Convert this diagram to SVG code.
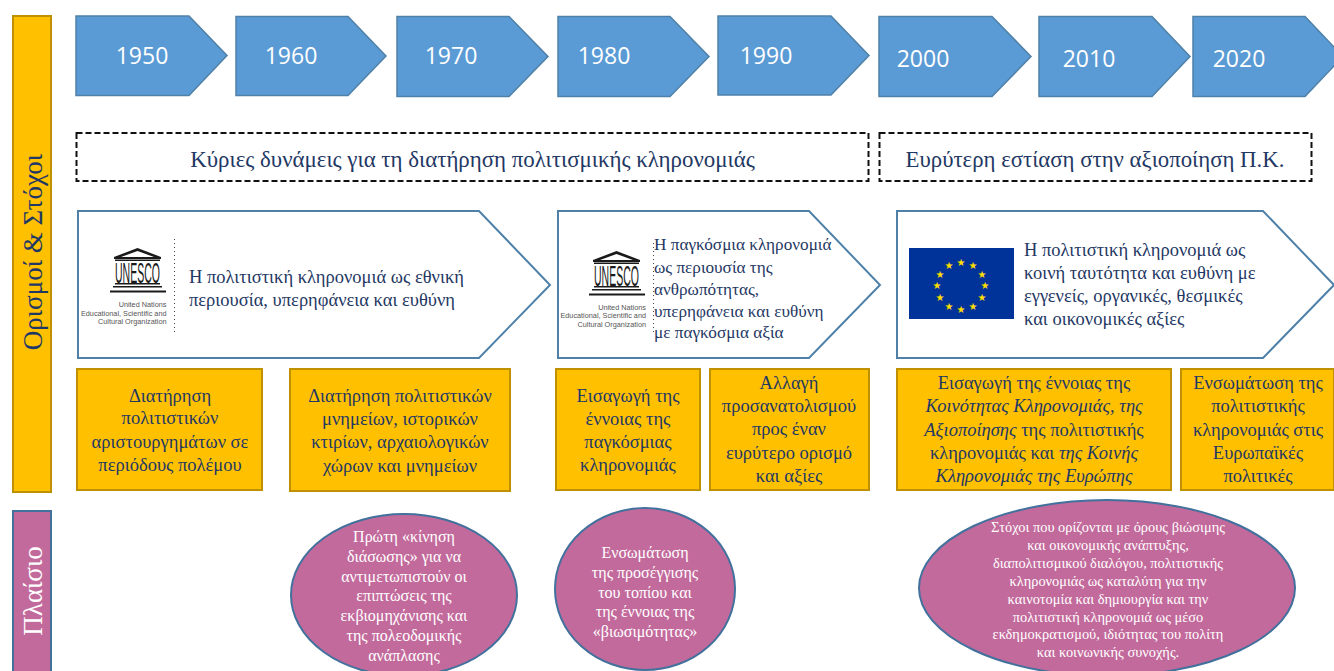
<svg xmlns="http://www.w3.org/2000/svg" width="1334" height="671" viewBox="0 0 1334 671">
<style>
.t{font-family:"Liberation Serif","Noto Sans",serif;fill:#1f3864;text-anchor:middle}
.s{font-size:18.5px}
.l{text-anchor:start;font-size:18.5px}
.w{font-family:"Liberation Serif","Noto Sans",serif;fill:#fff;text-anchor:middle;font-size:16px}
.y{font-family:"Open Sans","Noto Sans",sans-serif;fill:#fff;font-size:23px;text-anchor:middle}
.arrow{fill:#5b9bd5;stroke:#4f81a8;stroke-width:1.500}
.o{fill:#ffc000;stroke:#bf9000;stroke-width:2}
.p{fill:#c36a9c;stroke:#41719c;stroke-width:2}
.c{fill:#fff;stroke:#4f81a8;stroke-width:2}
.d{fill:#fff;stroke:#111;stroke-width:2;stroke-dasharray:6 3}
.dot{stroke:#444;stroke-width:1;stroke-dasharray:1 3;fill:none}
.cap{font-family:"Liberation Sans",sans-serif;font-size:7.300px;fill:#555;text-anchor:end}
.un{font-family:"Liberation Sans",sans-serif;font-size:29px;fill:#1a1a1a}
.lg{fill:#1a1a1a}
.star{fill:#ffdd00;font-family:"DejaVu Sans",sans-serif;font-size:10px;text-anchor:middle}
</style>
<defs>
<g id="unesco">
<path class="lg" d="M0 9 L23.500 0 L47 9 L47 11 L0 11 Z M7 9 L40 9 L23.500 3 Z" fill-rule="evenodd"/>
<rect class="lg" x="1" y="11.500" width="45" height="1.500"/>
<text class="un" x="1" y="34.500" textLength="45" lengthAdjust="spacingAndGlyphs">UNESCO</text>
<rect class="lg" x="1" y="35" width="45" height="1.500"/>
<rect class="lg" x="-1" y="38" width="49" height="1.500"/>
<rect class="lg" x="-4" y="42.500" width="56" height="2"/>
</g>
</defs>
<g id="connectors"></g>
<g id="bar-goals"><rect class="o" x="13" y="16" width="38" height="476"/><text class="t" transform="translate(42 252) rotate(-90)" style="font-size:27px">Ορισμοί &amp; Στόχοι</text></g>
<g id="bar-context"><rect class="p" x="13" y="511" width="38" height="170"/><text transform="translate(42 591) rotate(-90)" style="font-size:27px;font-family:'Liberation Serif',serif;fill:#fff;text-anchor:middle">Πλαίσιο</text></g>
<g id="y1950"><path class="arrow" d="M76 16H189L227 55.500L189 95.500H76Z"/><text class="y" x="142" y="64">1950</text></g>
<g id="y1960"><path class="arrow" d="M236 16.500H348L386 56L348 95.500H236Z"/><text class="y" x="291" y="64">1960</text></g>
<g id="y1970"><path class="arrow" d="M397 16.500H509L548 56.500L509 96.500H397Z"/><text class="y" x="451" y="64">1970</text></g>
<g id="y1980"><path class="arrow" d="M558 16.500H670L709 56.500L670 96.500H558Z"/><text class="y" x="604" y="64">1980</text></g>
<g id="y1990"><path class="arrow" d="M718 16H831L869 55.500L831 95H718Z"/><text class="y" x="766" y="64">1990</text></g>
<g id="y2000"><path class="arrow" d="M879 16.500H992L1031 56.500L992 96.500H879Z"/><text class="y" x="923" y="67">2000</text></g>
<g id="y2010"><path class="arrow" d="M1039 16.500H1152L1190 56.500L1152 96.500H1039Z"/><text class="y" x="1089" y="67">2010</text></g>
<g id="y2020"><path class="arrow" d="M1193 16.500H1305L1343 56.500L1305 96.500H1193Z"/><text class="y" x="1239" y="67">2020</text></g>
<g id="band-1"><rect class="d" x="76.500" y="133" width="792" height="48"/><text class="t" x="472.500" y="167" style="font-size:22.900px">Κύριες δυνάμεις για τη διατήρηση πολιτισμικής κληρονομιάς</text></g>
<g id="band-2"><rect class="d" x="879.500" y="133" width="432" height="48"/><text class="t" x="1095" y="167" style="font-size:22.800px">Ευρύτερη εστίαση στην αξιοποίηση Π.Κ.</text></g>
<g id="def-1"><path class="c" d="M78 211H479L550 285L479 358H78Z"/>
<use href="#unesco" transform="translate(114 248)"/>
<text class="cap"><tspan x="166.500" y="307">United Nations</tspan><tspan x="166.500" y="315.500">Educational, Scientific and</tspan><tspan x="166.500" y="324">Cultural Organization</tspan></text>
<path class="dot" d="M174.500 239V332"/>
<text class="t l"><tspan x="189" y="283">Η πολιτιστική κληρονομιά ως εθνική</tspan><tspan x="189" y="306">περιουσία, υπερηφάνεια και ευθύνη</tspan></text></g>
<g id="def-2"><path class="c" d="M558 211H809L880 285L809 358H558Z"/>
<use href="#unesco" transform="translate(593 251)"/>
<text class="cap"><tspan x="646" y="309.500">United Nations</tspan><tspan x="646" y="318">Educational, Scientific and</tspan><tspan x="646" y="326.500">Cultural Organization</tspan></text>
<path class="dot" d="M653.500 243V333"/>
<text class="t l" style="font-size:17.200px"><tspan x="654" y="250">Η παγκόσμια κληρονομιά</tspan><tspan x="654" y="273">ως περιουσία της</tspan><tspan x="654" y="295">ανθρωπότητας,</tspan><tspan x="654" y="317">υπερηφάνεια και ευθύνη</tspan><tspan x="654" y="338">με παγκόσμια αξία</tspan></text></g>
<g id="def-3"><path class="c" d="M897 211H1263L1334 285L1263 358H897Z"/>
<rect x="909" y="248" width="105" height="71" fill="#003399"/>
<g class="star"><text x="961" y="266">★</text><text x="973" y="269">★</text><text x="982" y="278">★</text><text x="985" y="289">★</text><text x="982" y="301">★</text><text x="973" y="310">★</text><text x="961" y="313">★</text><text x="949" y="310">★</text><text x="940" y="301">★</text><text x="937" y="289">★</text><text x="940" y="278">★</text><text x="949" y="269">★</text></g>
<text class="t l"><tspan x="1024" y="256">Η πολιτιστική κληρονομιά ως</tspan><tspan x="1024" y="279">κοινή ταυτότητα και ευθύνη με</tspan><tspan x="1024" y="302">εγγενείς, οργανικές, θεσμικές</tspan><tspan x="1024" y="325">και οικονομικές αξίες</tspan></text></g>
<g id="goal-1"><rect class="o" x="77" y="369" width="185" height="121"/><text class="t s"><tspan x="170" y="402">Διατήρηση</tspan><tspan x="170" y="424">πολιτιστικών</tspan><tspan x="170" y="448">αριστουργημάτων σε</tspan><tspan x="170" y="471">περιόδους πολέμου</tspan></text></g>
<g id="goal-2"><rect class="o" x="290" y="369" width="220" height="122"/><text class="t s"><tspan x="400" y="402">Διατήρηση πολιτιστικών</tspan><tspan x="400" y="425">μνημείων, ιστορικών</tspan><tspan x="400" y="448">κτιρίων, αρχαιολογικών</tspan><tspan x="400" y="472">χώρων και μνημείων</tspan></text></g>
<g id="goal-3"><rect class="o" x="556" y="369" width="144" height="121"/><text class="t s"><tspan x="628" y="402">Εισαγωγή της</tspan><tspan x="628" y="425">έννοιας της</tspan><tspan x="628" y="448">παγκόσμιας</tspan><tspan x="628" y="471">κληρονομιάς</tspan></text></g>
<g id="goal-4"><rect class="o" x="710" y="369" width="159" height="121"/><text class="t s"><tspan x="789" y="389">Αλλαγή</tspan><tspan x="789" y="412">προσανατολισμού</tspan><tspan x="789" y="435">προς έναν</tspan><tspan x="789" y="459">ευρύτερο ορισμό</tspan><tspan x="789" y="482">και αξίες</tspan></text></g>
<g id="goal-5"><rect class="o" x="897" y="369" width="274" height="121"/><text class="t s"><tspan x="1034" y="389">Εισαγωγή της έννοιας της</tspan><tspan x="1034" y="412" font-style="italic">Κοινότητας Κληρονομιάς, της</tspan><tspan x="1034" y="436"><tspan font-style="italic">Αξιοποίησης</tspan> της πολιτιστικής</tspan><tspan x="1034" y="459">κληρονομιάς και <tspan font-style="italic">της Κοινής</tspan></tspan><tspan x="1034" y="482" font-style="italic">Κληρονομιάς της Ευρώπης</tspan></text></g>
<g id="goal-6"><rect class="o" x="1181" y="369" width="153" height="121"/><text class="t s"><tspan x="1258" y="389">Ενσωμάτωση της</tspan><tspan x="1258" y="412">πολιτιστικής</tspan><tspan x="1258" y="436">κληρονομιάς στις</tspan><tspan x="1258" y="459">Ευρωπαϊκές</tspan><tspan x="1258" y="482">πολιτικές</tspan></text></g>
<g id="ctx-1"><ellipse class="p" cx="404" cy="595" rx="113" ry="81"/><text class="w"><tspan x="404" y="542">Πρώτη «κίνηση</tspan><tspan x="404" y="562">διάσωσης» για να</tspan><tspan x="404" y="582">αντιμετωπιστούν οι</tspan><tspan x="404" y="601">επιπτώσεις της</tspan><tspan x="404" y="621">εκβιομηχάνισης και</tspan><tspan x="404" y="641">της πολεοδομικής</tspan><tspan x="404" y="661">ανάπλασης</tspan></text></g>
<g id="ctx-2"><ellipse class="p" cx="645" cy="589" rx="90" ry="81"/><text class="w"><tspan x="645" y="558">Ενσωμάτωση</tspan><tspan x="645" y="578">της προσέγγισης</tspan><tspan x="645" y="598">του τοπίου και</tspan><tspan x="645" y="617">της έννοιας της</tspan><tspan x="645" y="637">«βιωσιμότητας»</tspan></text></g>
<g id="ctx-3"><ellipse class="p" cx="1107" cy="588" rx="188" ry="88"/><text class="w" style="font-size:14.400px"><tspan x="1108" y="532">Στόχοι που ορίζονται με όρους βιώσιμης</tspan><tspan x="1108" y="550">και οικονομικής ανάπτυξης,</tspan><tspan x="1108" y="568">διαπολιτισμικού διαλόγου, πολιτιστικής</tspan><tspan x="1108" y="586">κληρονομιάς ως καταλύτη για την</tspan><tspan x="1108" y="604">καινοτομία και δημιουργία και την</tspan><tspan x="1108" y="622">πολιτιστική κληρονομιά ως μέσο</tspan><tspan x="1108" y="639">εκδημοκρατισμού, ιδιότητας του πολίτη</tspan><tspan x="1108" y="657">και κοινωνικής συνοχής.</tspan></text></g>
</svg>
